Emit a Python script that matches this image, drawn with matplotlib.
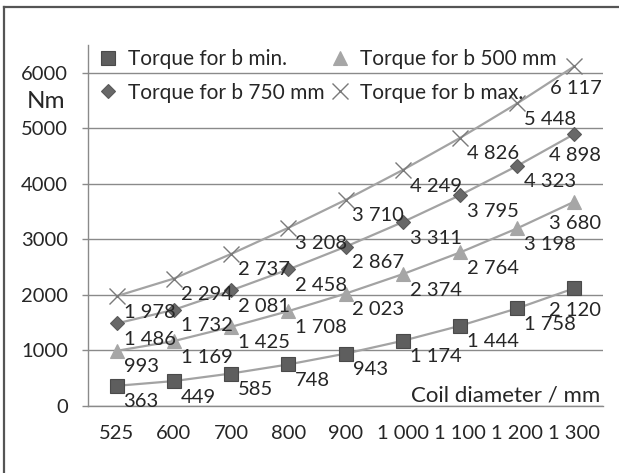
import matplotlib
matplotlib.use('Agg')
import matplotlib.pyplot as plt
from matplotlib.lines import Line2D

# ---- data ----
categories = ['525', '600', '700', '800', '900', '1 000', '1 100', '1 200', '1 300']
torque_b_min = [363, 449, 585, 748, 943, 1174, 1444, 1758, 2120]
torque_b_500 = [993, 1169, 1425, 1708, 2023, 2374, 2764, 3198, 3680]
torque_b_750 = [1486, 1732, 2081, 2458, 2867, 3311, 3795, 4323, 4898]
torque_b_max = [1978, 2294, 2737, 3208, 3710, 4249, 4826, 5448, 6117]
series_names = ['Torque for b min.', 'Torque for b 500 mm',
                'Torque for b 750 mm', 'Torque for b max.']
y_ticks = [0, 1000, 2000, 3000, 4000, 5000, 6000]
y_unit = 'Nm'
x_title = 'Coil diameter / mm'

plt.rcParams['font.family'] = ['Lato', 'DejaVu Sans']
FS_NUM = 14.5
FS_LEG = 15.0
TXT = '#262626'

W, H = 619, 473
fig = plt.figure(figsize=(W / 100, H / 100), dpi=100)
ax = fig.add_axes([88 / W, 1 - 406 / H, (603 - 88) / W, (406 - 45) / H])

x = list(range(len(categories)))

styles = [
    dict(marker='s', ms=9.5, mfc='#5e5e5e', mec='#4a4a4a', mew=0.8),
    dict(marker='^', ms=10, mfc='#a6a6a6', mec='#a6a6a6', mew=0.8),
    dict(marker='D', ms=6.8, mfc='#686868', mec='#5a5a5a', mew=0.8),
    dict(marker='x', ms=11, mfc='none', mec='#7a7a7a', mew=1.0),
]
all_series = [torque_b_min, torque_b_500, torque_b_750, torque_b_max]

for vals, st in zip(all_series, styles):
    ax.plot(x, vals, color='#a3a3a3', lw=1.6, zorder=2)
    ax.plot(x, vals, ls='none', zorder=3, clip_on=False, **st)
    for i, v in enumerate(vals):
        s = '{:,}'.format(v).replace(',', ' ')
        if i == len(vals) - 1:
            ax.annotate(s, (i, v), xytext=(27, -22), textcoords='offset pixels',
                        ha='right', va='center', fontsize=FS_NUM, color=TXT, zorder=4)
        else:
            ax.annotate(s, (i, v), xytext=(7, -16), textcoords='offset pixels',
                        ha='left', va='center', fontsize=FS_NUM, color=TXT, zorder=4)

ax.set_xlim(-0.5, len(categories) - 0.5)
ax.set_ylim(0, 6500)
ax.set_yticks(y_ticks)
ax.set_yticklabels([str(t) for t in y_ticks], fontsize=FS_NUM, color=TXT)
ax.set_xticks(x)
ax.set_xticklabels(categories, fontsize=FS_NUM, color=TXT)
ax.tick_params(axis='x', length=0, pad=14)
ax.tick_params(axis='y', length=4.3, width=1, color='#8a8a8a', pad=10)
for sp in ['top', 'right']:
    ax.spines[sp].set_visible(False)
for sp in ['left', 'bottom']:
    ax.spines[sp].set_color('#8a8a8a')
    ax.spines[sp].set_linewidth(1)
ax.yaxis.grid(True, color='#8a8a8a', lw=1)
ax.set_axisbelow(True)

fig.text(600 / W, 1 - 395 / H, x_title, ha='right', va='center',
         fontsize=16, color=TXT)
fig.text(27 / W, 1 - 102 / H, y_unit, ha='left', va='center',
         fontsize=17.5, color=TXT)

# legend
handles = [Line2D([], [], ls='none', **st) for st in styles]
order = [0, 2, 1, 3]
leg = ax.legend([handles[k] for k in order], [series_names[k] for k in order],
                ncol=2, frameon=False, fontsize=FS_LEG, handlelength=0.9,
                handletextpad=0.5, columnspacing=0.3, labelspacing=0.65,
                borderpad=0, borderaxespad=0, loc='upper left',
                bbox_to_anchor=(98.5 / W, 1 - 49 / H),
                bbox_transform=fig.transFigure)
for t in leg.get_texts():
    t.set_color(TXT)

# outer frame (top and left edges)
fig.add_artist(Line2D([4 / W, 1], [1 - 7 / H, 1 - 7 / H], color='#555555', lw=1.6,
                      transform=fig.transFigure))
fig.add_artist(Line2D([4 / W, 4 / W], [0, 1 - 7 / H], color='#555555', lw=1.6,
                      transform=fig.transFigure))

fig.savefig('out.png', dpi=100)
